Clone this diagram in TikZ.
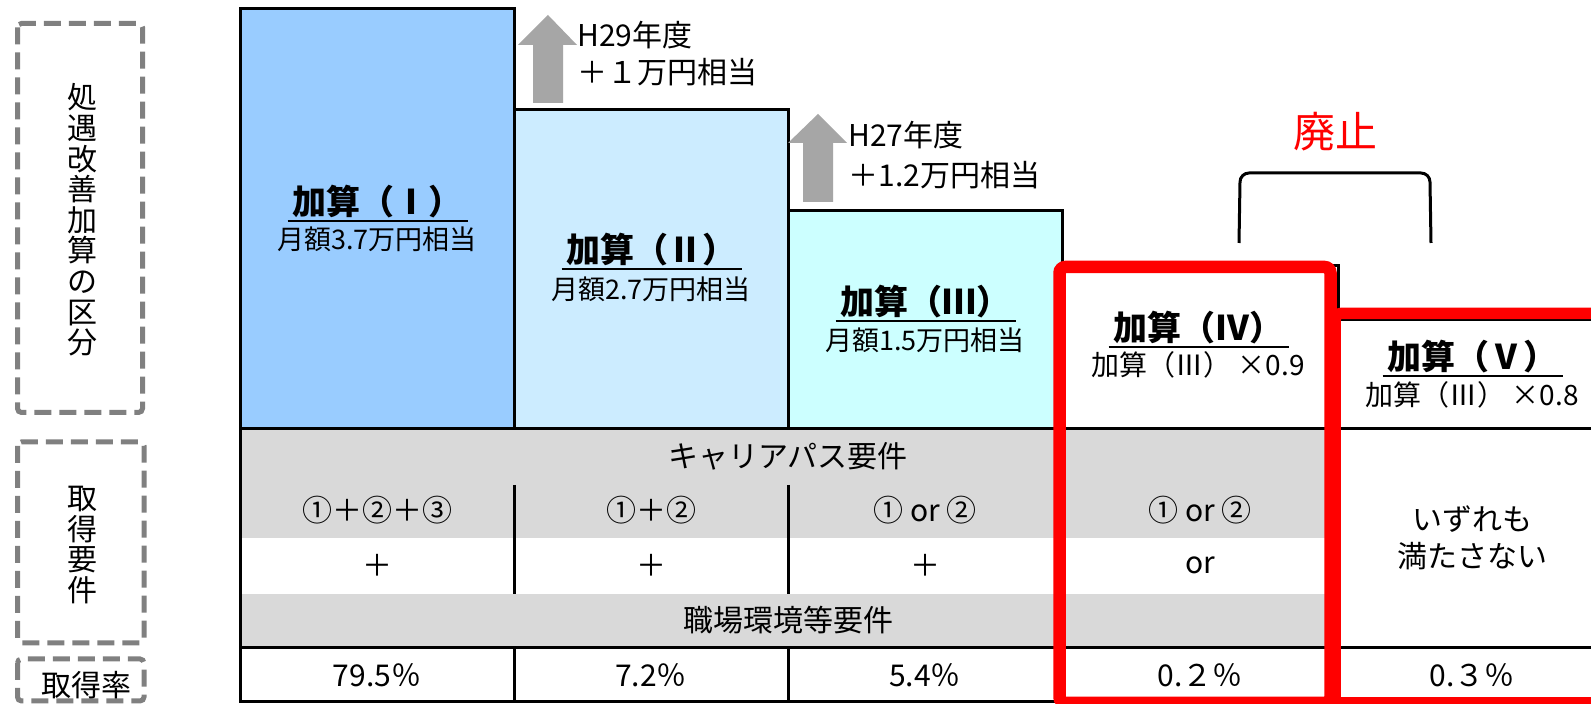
\documentclass[tikz,border=0pt]{standalone}
\usepackage{fontspec}
\setmainfont{Noto Sans CJK JP}
\definecolor{colI}{HTML}{99CCFF}
\definecolor{colII}{HTML}{CCECFF}
\definecolor{colIII}{HTML}{CCFFFF}
\definecolor{rowgray}{HTML}{D9D9D9}
\definecolor{arrgray}{HTML}{A6A6A6}
\definecolor{dashgray}{HTML}{808080}
\definecolor{stopred}{HTML}{FF0000}
\newcommand\fsTitle{\fontsize{17pt}{20pt}\selectfont\bfseries}
\newcommand\fsSub{\fontsize{13.5pt}{16pt}\selectfont}
\newcommand\fsSubB{\fontsize{14pt}{16pt}\selectfont}
\newcommand\fsTab{\fontsize{15pt}{18.5pt}\selectfont}
\newcommand\fsVert{\fontsize{15pt}{15.3pt}\selectfont\lineskiplimit=-20pt}
\begin{document}
\begin{tikzpicture}[x=0.5pt,y=-0.5pt,
  tabline/.style={line width=1.5pt},
  titlenode/.style={inner sep=0pt, font=\fsTitle},
  subnode/.style={inner sep=0pt, font=\fsSub},
  subnodeb/.style={inner sep=0pt, font=\fsSubB},
  tabnode/.style={inner sep=0pt, font=\fsTab},
  vertnode/.style={inner sep=0pt, align=center, font=\fsVert},
  dashbox/.style={draw=dashgray, line width=2.5pt, dash pattern=on 8.5pt off 4pt, rounded corners=2pt},
  redbox/.style={draw=stopred, rounded corners=3pt},
  uparrow/.style={fill=arrgray},
  uline/.style={line width=1pt}]

\fill[white] (0,0) rectangle (1591,704);
\useasboundingbox (0,0) rectangle (1591,704);

% column fills
\fill[colI] (240,9) rectangle (514,429);
\fill[colII] (514,110) rectangle (788,429);
\fill[colIII] (788,211) rectangle (1062,429);
\fill[rowgray] (240,429) rectangle (1338,538);
\fill[rowgray] (240,594) rectangle (1338,648);

% table lines
\draw[tabline] (240,9) rectangle (514,429);
\draw[tabline] (514,110) rectangle (788,429);
\draw[tabline] (788,211) rectangle (1062,429);
\draw[tabline] (1062,266) rectangle (1338,429);
\draw[tabline] (1338,320) -- (1600,320);
\draw[tabline] (240,429) -- (1600,429);
\draw[tabline] (240,648) -- (1600,648);
\draw[tabline] (240,702) -- (1600,702);
\draw[tabline] (240,429) -- (240,703);
\draw[tabline] (514,485) -- (514,594);
\draw[tabline] (788,485) -- (788,594);
\draw[tabline] (514,648) -- (514,703);
\draw[tabline] (788,648) -- (788,703);
\draw[tabline] (1062,429) -- (1062,703);
\draw[tabline] (1338,429) -- (1338,703);

% red boxes
\draw[redbox, line width=5.75pt] (1335,313.5) rectangle (1650,703);
\draw[redbox, line width=6.25pt] (1059.5,267) rectangle (1330.5,703);

% arrows
\fill[uparrow] (533,103) -- (533,45) -- (518,45) -- (548,15) -- (577,45) -- (563,45) -- (563,103) -- cycle;
\fill[uparrow] (803,202) -- (803,143) -- (788,143) -- (818,114) -- (847,143) -- (833,143) -- (833,202) -- cycle;
\node[tabnode, anchor=west] (h29) at (577,35) {H29年度};
\node[tabnode, anchor=west] (h29b) at (577,72) {＋１万円相当};
\node[tabnode, anchor=west] (h27) at (848,135) {H27年度};
\node[tabnode, anchor=west] (h27b) at (848,175) {＋1.2万円相当};

% bracket and label
\draw[line width=1.5pt] (1239,243) -- (1240,182) to[out=90,in=180] (1249,173) -- (1421,173) to[out=0,in=90] (1430,182) -- (1431,243);
\node[text=stopred, inner sep=0pt, font=\fontsize{21pt}{24pt}\selectfont] (haishi) at (1335,132) {廃止};

% column titles
\node[titlenode] (tI) at (377,202) {加算（Ⅰ）};
\draw[uline] ([xshift=-2pt,yshift=-1pt]tI.south west) -- ([xshift=3pt,yshift=-1pt]tI.south east);
\node[subnode] (sI) at (377,239) {月額3.7万円相当};

\node[titlenode] (tII) at (651,250) {加算（Ⅱ）};
\draw[uline] ([xshift=-2pt,yshift=-1pt]tII.south west) -- ([xshift=3pt,yshift=-1pt]tII.south east);
\node[subnode] (sII) at (651,289) {月額2.7万円相当};

\node[titlenode] (tIII) at (925,302) {加算（Ⅲ）};
\draw[uline] ([xshift=-2pt,yshift=-1pt]tIII.south west) -- ([xshift=3pt,yshift=-1pt]tIII.south east);
\node[subnode] (sIII) at (925,340) {月額1.5万円相当};

\node[titlenode] (tIV) at (1198,328) {加算（Ⅳ）};
\draw[uline] ([xshift=-2pt,yshift=-1pt]tIV.south west) -- ([xshift=3pt,yshift=-1pt]tIV.south east);
\node[subnodeb] (sIV) at (1198,365) {加算（Ⅲ）\ ×0.9};

\node[titlenode] (tV) at (1472,357) {加算（Ⅴ）};
\draw[uline] ([xshift=-2pt,yshift=-1pt]tV.south west) -- ([xshift=3pt,yshift=-1pt]tV.south east);
\node[subnodeb] (sV) at (1472,395) {加算（Ⅲ）\ ×0.8};

% table texts
\node[tabnode] (kp) at (788,456) {キャリアパス要件};
\node[tabnode] (c1) at (377,510) {①＋②＋③};
\node[tabnode] (c2) at (651,510) {①＋②};
\node[tabnode] (c3) at (925,510) {① or ②};
\node[tabnode] (c4) at (1200,510) {① or ②};
\node[tabnode] (p1) at (377,565) {＋};
\node[tabnode] (p2) at (651,565) {＋};
\node[tabnode] (p3) at (925,565) {＋};
\node[tabnode] (p4) at (1200,565) {or};
\node[tabnode] (se) at (788,620) {職場環境等要件};
\node[tabnode, align=center] (nv) at (1472,538) {いずれも\\満たさない};
\node[tabnode] (r1) at (377,675) {79.5％};
\node[tabnode] (r2) at (651,675) {7.2％};
\node[tabnode] (r3) at (925,675) {5.4％};
\node[tabnode] (r4) at (1200,675) {0.２％};
\node[tabnode] (r5) at (1472,675) {0.３％};

% left labels
\draw[dashbox] (17.5,23.5) rectangle (142.5,412.5);
\draw[dashbox] (17.5,442) rectangle (144,643);
\draw[dashbox] (17.5,659) rectangle (144,701);
\node[vertnode] (lab1) at (82,220) {処\\遇\\改\\善\\加\\算\\の\\区\\分};
\node[vertnode] (lab2) at (82,545) {取\\得\\要\\件};
\node[tabnode] (lab3) at (86,685) {取得率};
\end{tikzpicture}
\end{document}
